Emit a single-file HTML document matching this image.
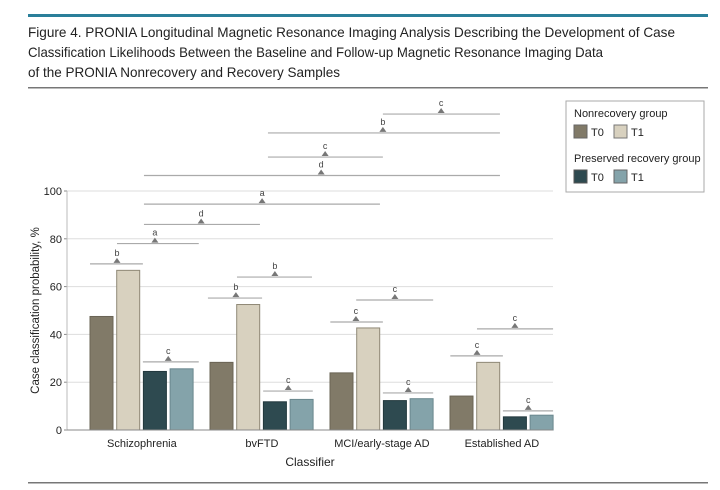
<!DOCTYPE html>
<html><head><meta charset="utf-8"><style>
body{margin:0;background:#fff;}
svg{display:block;font-family:"Liberation Sans",sans-serif;}
</style></head><body>
<svg width="720" height="490" viewBox="0 0 720 490">
<rect x="28" y="14" width="680" height="3" fill="#2a7f9a"/>
<g font-size="14" fill="#222">
<text x="28" y="37" textLength="647" lengthAdjust="spacingAndGlyphs">Figure 4. PRONIA Longitudinal Magnetic Resonance Imaging Analysis Describing the Development of Case</text>
<text x="28" y="57" textLength="575" lengthAdjust="spacingAndGlyphs">Classification Likelihoods Between the Baseline and Follow-up Magnetic Resonance Imaging Data</text>
<text x="28" y="77" textLength="312" lengthAdjust="spacingAndGlyphs">of the PRONIA Nonrecovery and Recovery Samples</text>
</g>
<rect x="28" y="87" width="680" height="1.5" fill="#777"/>
<rect x="28" y="482" width="680" height="1.5" fill="#777"/>
<g id="grid"></g><g id="sig"></g><g id="bars"></g><g id="axes"></g>
<g>
<rect x="566" y="101" width="138" height="91" fill="#fff" stroke="#aaa"/>
<text x="574" y="117" font-size="11" fill="#222">Nonrecovery group</text>
<rect x="574" y="125" width="13" height="13" fill="#817a68" stroke="#666"/>
<text x="591" y="136" font-size="11" fill="#222">T0</text>
<rect x="614" y="125" width="13" height="13" fill="#d8d1bf" stroke="#777"/>
<text x="631" y="136" font-size="11" fill="#222">T1</text>
<text x="574" y="162" font-size="11" fill="#222">Preserved recovery group</text>
<rect x="574" y="170" width="13" height="13" fill="#2e4a50" stroke="#555"/>
<text x="591" y="181" font-size="11" fill="#222">T0</text>
<rect x="614" y="170" width="13" height="13" fill="#84a3aa" stroke="#666"/>
<text x="631" y="181" font-size="11" fill="#222">T1</text>
</g>
</svg>
<script>
const categories=["Schizophrenia","bvFTD","MCI/early-stage AD","Established AD"];
const nonrecT0=[47.5,28.3,23.9,14.2];
const nonrecT1=[66.8,52.5,42.7,28.3];
const recT0=[24.5,11.8,12.3,5.5];
const recT1=[25.6,12.8,13.1,6.2];
const yTicks=[0,20,40,60,80,100];
// significance brackets in bar-index units (0..15 = bar centers, fractional interpolates)
const sigY=[69.5,78,86,94.5,106.5,114.2,124.3,132.2,28.5,55.2,64,16.3,45.2,54.4,15.5,31,42.3,8];
const sigFrom=[-0.43,0.58,1.59,1.59,1.59,5.74,5.74,9.55,1.55,3.66,4.58,5.56,7.72,8.55,9.55,11.72,12.58,13.55];
const sigTo=[1.55,3.43,5.44,9.44,13.44,9.55,13.44,13.44,3.43,5.52,7.26,7.28,9.55,11.29,11.29,13.55,15.43,15.43];
const sigMark=[0.58,2.0,3.49,5.52,7.49,7.59,9.55,11.49,2.5,4.54,6.0,6.5,8.54,10.0,10.5,12.58,14.0,14.5];
const sigLabel=["b","a","d","a","d","c","b","c","c","b","b","c","c","c","c","c","c","c"];
const NS="http://www.w3.org/2000/svg";
const X0=67,X1=553,Y0=430,Y100=191;
const y=v=>Y0-(Y0-Y100)*v/100;
const barW=23, barStep=26.7, groupStep=120, firstBar=90;
const barX=i=>firstBar+Math.floor(i/4)*groupStep+(i%4)*barStep;
const center=i=>barX(i)+barW/2;
const pos=u=>{
 if(u<0) return center(0)+u*barStep;
 if(u>=15) return center(15)+(u-15)*barStep;
 const f=Math.floor(u),r=u-f;return center(f)+r*(center(f+1)-center(f));
};
function mk(tag,a,p){const e=document.createElementNS(NS,tag);for(const k in a)e.setAttribute(k,a[k]);p.appendChild(e);return e;}
const grid=document.getElementById('grid'),axes=document.getElementById('axes'),bars=document.getElementById('bars'),sig=document.getElementById('sig');
yTicks.forEach(t=>{
 if(t>0){const g=mk('line',{x1:X0,x2:X1,y1:y(t),y2:y(t),stroke:'#ddd','stroke-width':1},grid);
 
 }
 const tl=mk('text',{x:X0-5,y:y(t)+4,'text-anchor':'end','font-size':11,fill:'#222'},axes);tl.textContent=t;
 
 
 mk('line',{x1:X0-3,x2:X0,y1:y(t),y2:y(t),stroke:'#888'},axes);
});
mk('line',{x1:X0,x2:X0,y1:Y100,y2:Y0,stroke:'#bbb'},axes);
mk('line',{x1:X0,x2:X1,y1:Y0,y2:Y0,stroke:'#888'},axes);
const yt=mk('text',{transform:`translate(39,${(Y0+Y100)/2}) rotate(-90)`,'text-anchor':'middle','font-size':11.5,fill:'#222'},axes);
yt.textContent='Case classification probability, %';


const xt=mk('text',{x:310,y:466,'text-anchor':'middle','font-size':12,fill:'#222'},axes);
xt.textContent='Classifier';


const series=[nonrecT0,nonrecT1,recT0,recT1];
const fills=['#817a68','#d8d1bf','#2e4a50','#84a3aa'];
const strokes=['#6a6455','#8f8876','#22383d','#6a878e'];
const sn=['nonrec-t0','nonrec-t1','rec-t0','rec-t1'];
categories.forEach((c,g)=>{
 series.forEach((s,k)=>{
  const i=g*4+k;
  const r=mk('rect',{x:barX(i),y:y(s[g]),width:barW,height:Y0-y(s[g]),fill:fills[k],stroke:strokes[k],'stroke-width':1},bars);
  
  
 });
 const l=mk('text',{x:barX(g*4)+2*barStep-1.5,y:447,'text-anchor':'middle','font-size':11,fill:'#222'},axes);
 l.textContent=c;
 
 
});
sigY.forEach((v,j)=>{
 const yy=y(v);
 const ln=mk('line',{x1:pos(sigFrom[j]),x2:pos(sigTo[j]),y1:yy,y2:yy,stroke:'#aaa','stroke-width':1.2},sig);
 
 
 const mx=pos(sigMark[j]);
 mk('polygon',{points:`${mx-3.5},${yy-1} ${mx+3.5},${yy-1} ${mx},${yy-6}`,fill:'#777'},sig);
 const t=mk('text',{x:mx,y:yy-8,'text-anchor':'middle','font-size':9,fill:'#444'},sig);
 t.textContent=sigLabel[j];
 
 
});
</script>
</body></html>
